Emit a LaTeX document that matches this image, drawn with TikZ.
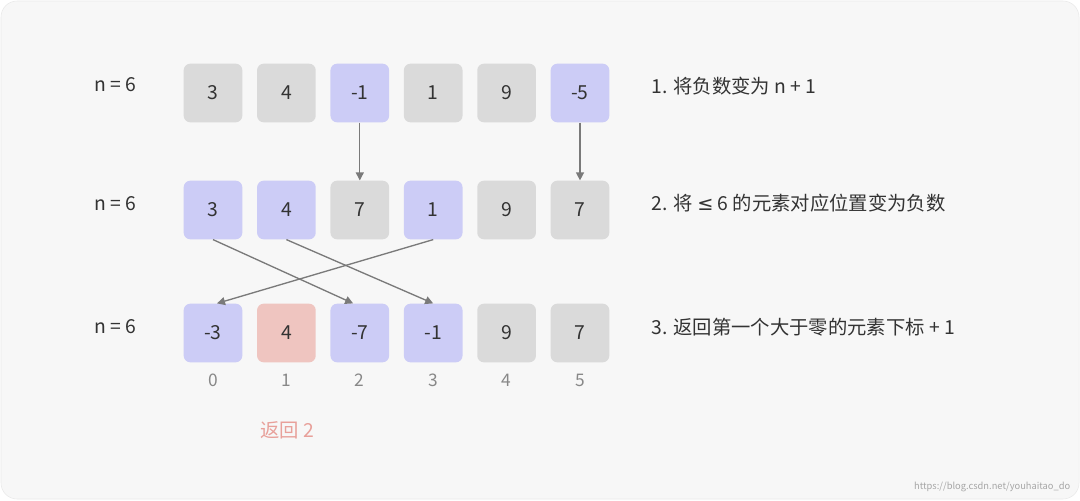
\documentclass[tikz,border=0pt]{standalone}
\usepackage{fontspec}
\setmainfont{Noto Sans CJK SC}
\newfontfamily\symf{DejaVu Sans}
\usetikzlibrary{arrows.meta}
\definecolor{bgc}{HTML}{F7F7F7}
\definecolor{gbox}{HTML}{DADADA}
\definecolor{bbox}{HTML}{CCCCF6}
\definecolor{pbox}{HTML}{EFC5C0}
\definecolor{arr}{HTML}{7A7A7A}
\definecolor{idx}{HTML}{888888}
\definecolor{txt}{HTML}{333333}
\definecolor{red2}{HTML}{E8A09A}
\tikzset{
 cell/.style={rounded corners=5pt,minimum width=44pt,minimum height=44pt,inner sep=0pt,font=\fontsize{14.5}{14}\selectfont,text=txt},
 g/.style={cell,fill=gbox}, b/.style={cell,fill=bbox}, p/.style={cell,fill=pbox},
 lab/.style={font=\fontsize{14.5}{14}\selectfont,text=txt,anchor=west},
 ix/.style={font=\fontsize{13}{13}\selectfont,text=idx},
 ar/.style={draw=arr,line width=1pt,-{Triangle[length=6pt,width=6pt]}}
}
\begin{document}
\begin{tikzpicture}[x=0.75pt,y=-0.75pt]
\useasboundingbox (0,0) rectangle (1080,500);
\fill[bgc,draw=gbox!60,rounded corners=12pt] (1,1) rectangle (1079,499);
\foreach \n/\t/\s [count=\i from 0] in {a0/3/g,a1/4/g,a2/-1/b,a3/1/g,a4/9/g,a5/-5/b}
  \node[\s] (\n) at (213+73.4*\i,93) {\t};
\foreach \n/\t/\s [count=\i from 0] in {b0/3/b,b1/4/b,b2/7/g,b3/1/b,b4/9/g,b5/7/g}
  \node[\s] (\n) at (213+73.4*\i,210) {\t};
\foreach \n/\t/\s [count=\i from 0] in {c0/-3/b,c1/4/p,c2/-7/b,c3/-1/b,c4/9/g,c5/7/g}
  \node[\s] (\n) at (213+73.4*\i,333) {\t};
\foreach \i in {0,...,5} \node[ix] (i\i) at (213+73.4*\i,380) {\i};
\node[font=\fontsize{14.5}{14}\selectfont,text=red2] (ret) at (287,430) {返回 2};
\node[lab] (l1) at (90,85) {n = 6};
\node[lab] (l2) at (90,204) {n = 6};
\node[lab] (l3) at (90,327) {n = 6};
\node[lab] (r1) at (647,86) {1. 将负数变为 n + 1};
\node[lab] (r2) at (647,203) {2. 将 {\symf ≤} 6 的元素对应位置变为负数};
\node[lab] (r3) at (647,327) {3. 返回第一个大于零的元素下标 + 1};
\node[font=\fontsize{7}{7}\selectfont,text=gray!70,anchor=east] (wm) at (1075,487) {https://blog.csdn.net/youhaitao\_do};
\draw[ar] (a2) -- (b2);
\draw[ar] (a5) -- (b5);
\draw[ar] (b0.south) -- ([xshift=-5pt]c2.north);
\draw[ar] (b1.south) -- (c3.north);
\draw[ar] (b3.south) -- ([xshift=3pt]c0.north);
\end{tikzpicture}
\end{document}
